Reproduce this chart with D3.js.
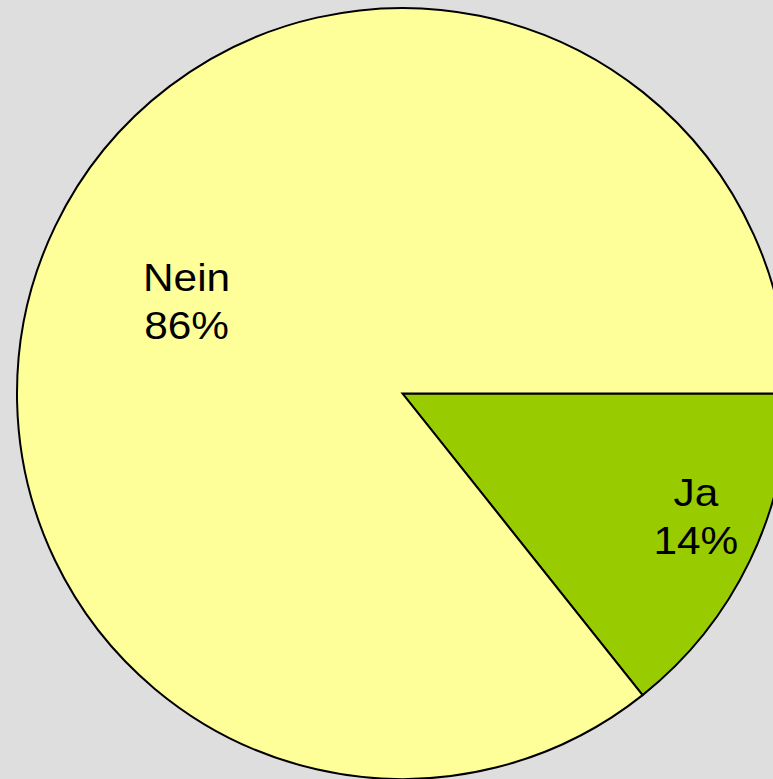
<!DOCTYPE html>
<html>
<head>
<meta charset="utf-8">
<script src="https://cdn.jsdelivr.net/npm/d3@7"></script>
<style>
  body { margin: 0; background: #dedede; overflow: hidden; }
</style>
</head>
<body>
<div id="chart"></div>
<script>
// data
var labels = ["Ja", "Nein"];
var values = [14.3, 85.7];
var colors = ["#99cc00", "#ffff99"];

var width = 773, height = 779;
var cx = 402.5, cy = 393.5, radius = 385.5;

var svg = d3.select("#chart").append("svg")
    .attr("width", width)
    .attr("height", height)
    .style("display", "block");

svg.append("rect")
    .attr("width", width)
    .attr("height", height)
    .attr("fill", "#dedede");

var g = svg.append("g")
    .attr("transform", "translate(" + cx + "," + cy + ")");

// first slice starts at 3 o'clock, going clockwise
var pie = d3.pie()
    .sort(null)
    .value(function(d) { return d; })
    .startAngle(Math.PI / 2)
    .endAngle(Math.PI / 2 + 2 * Math.PI);

var arcs = pie(values);
var total = d3.sum(values);

var arc = d3.arc().innerRadius(0).outerRadius(radius);

g.selectAll("path.slice")
    .data(arcs)
    .enter().append("path")
    .attr("class", "slice")
    .attr("d", arc)
    .attr("fill", function(d, i) { return colors[i]; })
    .attr("stroke", "#000")
    .attr("stroke-width", 2)
    .attr("stroke-linejoin", "miter");

// label placement, roughly where the original puts them
var labelPos = function(d, i) {
  var a = (d.startAngle + d.endAngle) / 2 - 0.05;
  var r = radius * (i === 0 ? 0.826 : 0.608);
  return [Math.sin(a) * r, -Math.cos(a) * r];
};

var lbl = g.selectAll("text.lbl")
    .data(arcs)
    .enter().append("text")
    .attr("class", "lbl")
    .attr("text-anchor", "middle")
    .style("font-family", "Arial, 'Liberation Sans', sans-serif")
    .style("font-size", "38.5px")
    .style("fill", "#000")
    .attr("transform", function(d, i) {
      var p = labelPos(d, i);
      return "translate(" + p[0] + "," + p[1] + ") scale(1.1,1)";
    });

lbl.append("tspan")
    .attr("x", 0)
    .attr("y", -11.5)
    .text(function(d, i) { return labels[i]; });

lbl.append("tspan")
    .attr("x", 0)
    .attr("y", 36.5)
    .text(function(d, i) { return Math.round(values[i] / total * 100) + "%"; });
</script>
</body>
</html>
